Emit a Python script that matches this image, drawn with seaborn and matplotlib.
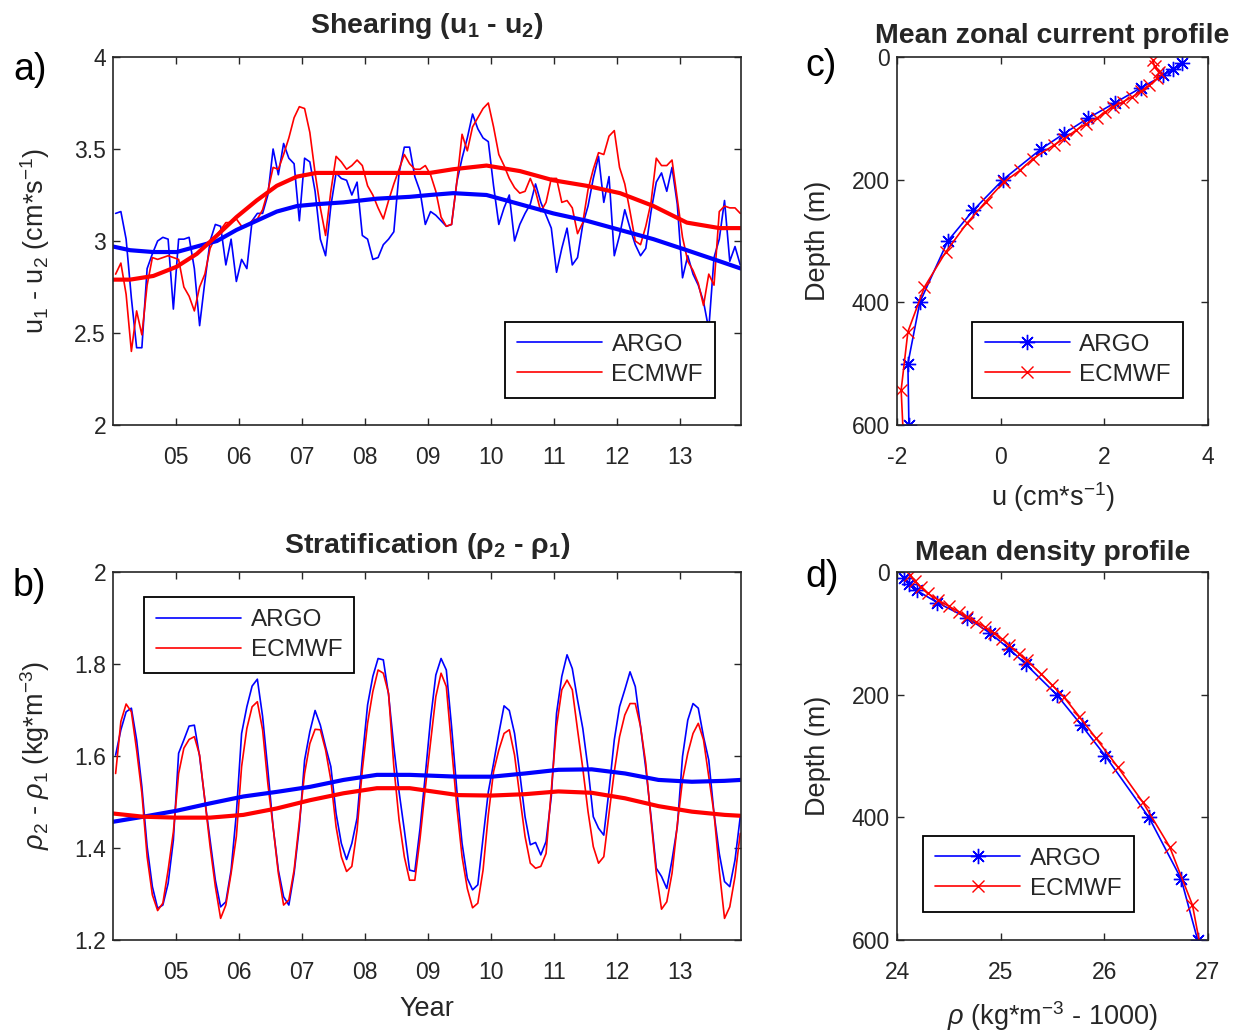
import numpy as np
import pandas as pd
import matplotlib
matplotlib.use("Agg")
import matplotlib.pyplot as plt
import seaborn as sns

# ---------------- data ----------------
months = np.arange(120)
years = 2004 + (months + 0.5) / 12.0

argo_shear = [3.15, 3.16, 3.01, 2.69, 2.42, 2.42, 2.85, 2.93, 3.00, 3.02,
              3.01, 2.63, 3.01, 3.01, 3.02, 2.85, 2.54, 2.78, 3.00, 3.09,
              3.08, 2.87, 3.01, 2.78, 2.90, 2.85, 3.11, 3.15, 3.15, 3.25,
              3.50, 3.36, 3.53, 3.45, 3.42, 3.11, 3.45, 3.43, 3.27, 3.01,
              2.92, 3.19, 3.37, 3.34, 3.33, 3.25, 3.32, 3.03, 3.01, 2.90,
              2.91, 2.98, 3.01, 3.05, 3.37, 3.51, 3.51, 3.35, 3.27, 3.09,
              3.16, 3.14, 3.11, 3.08, 3.09, 3.32, 3.45, 3.56, 3.69, 3.61,
              3.56, 3.54, 3.30, 3.09, 3.18, 3.25, 3.00, 3.09, 3.15, 3.20,
              3.31, 3.21, 3.14, 3.07, 2.83, 2.96, 3.07, 2.87, 2.91, 3.09,
              3.19, 3.34, 3.46, 3.21, 3.35, 2.92, 3.03, 3.17, 3.07, 2.98,
              2.92, 2.96, 3.16, 3.32, 3.37, 3.27, 3.40, 3.20, 2.80, 2.92,
              2.82, 2.76, 2.67, 2.52, 2.91, 3.01, 3.22, 2.89, 2.97, 2.87]

ecmwf_shear = [2.82, 2.88, 2.71, 2.40, 2.62, 2.49, 2.76, 2.91, 2.90, 2.91,
               2.92, 2.91, 2.90, 2.75, 2.70, 2.62, 2.75, 2.82, 2.96, 3.02,
               3.06, 3.10, 3.10, 3.12, 3.08, 3.08, 3.11, 3.12, 3.17, 3.27,
               3.40, 3.39, 3.47, 3.56, 3.67, 3.73, 3.72, 3.59, 3.37, 3.18,
               3.03, 3.27, 3.46, 3.43, 3.39, 3.41, 3.44, 3.41, 3.30, 3.25,
               3.18, 3.12, 3.22, 3.31, 3.39, 3.47, 3.42, 3.39, 3.39, 3.41,
               3.36, 3.27, 3.13, 3.08, 3.09, 3.32, 3.58, 3.49, 3.62, 3.67,
               3.72, 3.75, 3.62, 3.47, 3.41, 3.34, 3.29, 3.26, 3.27, 3.34,
               3.27, 3.16, 3.21, 3.34, 3.34, 3.21, 3.22, 3.18, 3.04, 3.10,
               3.28, 3.39, 3.48, 3.47, 3.57, 3.60, 3.40, 3.31, 3.16, 3.00,
               2.98, 3.08, 3.21, 3.45, 3.41, 3.41, 3.44, 3.23, 3.02, 2.89,
               2.84, 2.77, 2.65, 2.82, 2.76, 3.16, 3.19, 3.18, 3.18, 3.15]

shear_trend_years = [2004.0, 2004.27, 2004.64, 2005.01, 2005.33, 2005.65, 2005.96,
                     2006.28, 2006.60, 2006.92, 2007.23, 2007.66, 2008.19, 2008.71,
                     2009.03, 2009.40, 2009.93, 2010.46, 2010.99, 2011.52, 2012.05,
                     2012.58, 2013.11, 2013.63, 2013.97]
argo_shear_trend = [2.97, 2.95, 2.94, 2.94, 2.97, 3.00, 3.06, 3.11, 3.16, 3.19, 3.20,
                    3.21, 3.23, 3.24, 3.25, 3.26, 3.25, 3.20, 3.15, 3.11, 3.06, 3.01,
                    2.95, 2.89, 2.85]
ecmwf_shear_trend = [2.79, 2.79, 2.81, 2.86, 2.93, 3.03, 3.13, 3.22, 3.30, 3.35, 3.37,
                     3.37, 3.37, 3.37, 3.37, 3.39, 3.41, 3.38, 3.33, 3.30, 3.26, 3.19,
                     3.10, 3.07, 3.07]

argo_strat = [1.602, 1.657, 1.696, 1.704, 1.635, 1.533, 1.403, 1.316, 1.269, 1.276,
              1.323, 1.417, 1.606, 1.635, 1.665, 1.667, 1.599, 1.504, 1.417, 1.330,
              1.272, 1.283, 1.352, 1.475, 1.649, 1.707, 1.752, 1.767, 1.686, 1.570,
              1.446, 1.352, 1.294, 1.276, 1.345, 1.446, 1.591, 1.653, 1.699, 1.667,
              1.620, 1.577, 1.475, 1.410, 1.375, 1.410, 1.465, 1.595, 1.711, 1.773,
              1.812, 1.809, 1.733, 1.620, 1.522, 1.439, 1.352, 1.349, 1.443, 1.559,
              1.680, 1.776, 1.812, 1.787, 1.664, 1.526, 1.410, 1.334, 1.309, 1.320,
              1.422, 1.522, 1.584, 1.649, 1.709, 1.699, 1.649, 1.562, 1.468, 1.407,
              1.412, 1.385, 1.414, 1.512, 1.693, 1.773, 1.820, 1.790, 1.722, 1.660,
              1.573, 1.468, 1.443, 1.428, 1.526, 1.635, 1.707, 1.744, 1.783, 1.751,
              1.664, 1.573, 1.468, 1.356, 1.338, 1.312, 1.374, 1.446, 1.599, 1.678,
              1.714, 1.704, 1.642, 1.591, 1.475, 1.388, 1.327, 1.316, 1.374, 1.468]

ecmwf_strat = [1.562, 1.675, 1.713, 1.696, 1.613, 1.519, 1.381, 1.298, 1.264, 1.280,
               1.352, 1.435, 1.562, 1.617, 1.636, 1.642, 1.602, 1.504, 1.403, 1.316,
               1.247, 1.276, 1.345, 1.425, 1.577, 1.660, 1.707, 1.718, 1.657, 1.540,
               1.446, 1.345, 1.276, 1.287, 1.352, 1.457, 1.562, 1.627, 1.658, 1.657,
               1.613, 1.548, 1.446, 1.381, 1.349, 1.360, 1.439, 1.570, 1.671, 1.740,
               1.787, 1.780, 1.736, 1.577, 1.461, 1.381, 1.330, 1.330, 1.421, 1.530,
               1.630, 1.729, 1.780, 1.751, 1.620, 1.490, 1.381, 1.312, 1.270, 1.280,
               1.352, 1.472, 1.566, 1.613, 1.649, 1.657, 1.602, 1.512, 1.425, 1.367,
               1.356, 1.360, 1.388, 1.526, 1.664, 1.744, 1.765, 1.744, 1.657, 1.573,
               1.479, 1.403, 1.367, 1.381, 1.475, 1.566, 1.642, 1.689, 1.714, 1.714,
               1.664, 1.584, 1.461, 1.345, 1.267, 1.283, 1.345, 1.450, 1.548, 1.606,
               1.649, 1.671, 1.635, 1.555, 1.475, 1.352, 1.247, 1.272, 1.338, 1.432]

strat_trend_years = [2004.0, 2004.48, 2005.01, 2005.54, 2006.07, 2006.60, 2007.13,
                     2007.66, 2008.19, 2008.71, 2009.48, 2010.01, 2010.54, 2011.07,
                     2011.60, 2012.13, 2012.66, 2013.19, 2013.71, 2013.97]
argo_strat_trend = [1.457, 1.468, 1.481, 1.497, 1.512, 1.522, 1.533, 1.548, 1.559, 1.559,
                    1.555, 1.555, 1.562, 1.570, 1.571, 1.562, 1.548, 1.544, 1.546, 1.548]
ecmwf_strat_trend = [1.475, 1.468, 1.466, 1.466, 1.472, 1.486, 1.504, 1.519, 1.530, 1.530,
                     1.515, 1.514, 1.517, 1.523, 1.520, 1.508, 1.491, 1.479, 1.472, 1.470]

argo_depth = [10, 20, 30, 50, 75, 100, 125, 150, 200, 250, 300, 400, 500, 600]
argo_u = [3.50, 3.32, 3.14, 2.71, 2.20, 1.68, 1.22, 0.78, 0.045, -0.53, -1.02, -1.56, -1.79, -1.77]
argo_rho = [24.07, 24.12, 24.19, 24.39, 24.68, 24.90, 25.08, 25.24, 25.54, 25.78, 26.01,
            26.43, 26.74, 26.90]

ecmwf_depth = [5, 15, 25, 35, 46, 56, 65, 73, 81, 90, 100, 109, 119, 133, 144, 166, 185,
               204, 236, 271, 318, 375, 448, 543, 650]
ecmwf_u = [2.93, 2.97, 3.05, 3.02, 2.87, 2.71, 2.54, 2.36, 2.17, 2.01, 1.85, 1.65, 1.46,
           1.23, 1.02, 0.62, 0.37, 0.06, -0.29, -0.65, -1.06, -1.47, -1.79, -1.92, -1.86]
ecmwf_rho = [24.13, 24.17, 24.23, 24.30, 24.40, 24.50, 24.60, 24.68, 24.76, 24.85, 24.94,
             25.01, 25.08, 25.18, 25.25, 25.39, 25.50, 25.61, 25.76, 25.92, 26.13, 26.37,
             26.63, 26.85, 26.97]

year_ticks = [2005, 2006, 2007, 2008, 2009, 2010, 2011, 2012, 2013]
year_labels = ["05", "06", "07", "08", "09", "10", "11", "12", "13"]

# ---------------- style ----------------
sns.set_theme(style="white")
plt.rcParams.update({
    "font.family": ["Liberation Sans", "DejaVu Sans"],
    "mathtext.fontset": "custom",
    "mathtext.rm": "Liberation Sans",
    "mathtext.it": "Liberation Sans:italic",
    "mathtext.bf": "Liberation Sans:bold",
    "mathtext.default": "regular",
    "axes.unicode_minus": False,
    "axes.edgecolor": "#262626",
    "text.color": "#262626",
    "axes.labelcolor": "#262626",
})

BLUE = (0, 0, 1)
RED = (1, 0, 0)
FS_TICK = 16.5
FS_LAB = 19.5
FS_TITLE = 20.5
FS_LEG = 17.5

fig = plt.figure(figsize=(12.47, 10.34), dpi=100)
W, H = 1247.0, 1034.0


def add_ax(x0, y0, x1, y1):
    return fig.add_axes([x0 / W, 1 - y1 / H, (x1 - x0) / W, (y1 - y0) / H])


ax_a = add_ax(113, 57, 741, 425)
ax_b = add_ax(113, 572, 741, 940)
ax_c = add_ax(897, 57, 1208, 425)
ax_d = add_ax(897, 572, 1208, 940)


def style(ax, xpad=15):
    for s in ax.spines.values():
        s.set_visible(True)
        s.set_color("#262626")
        s.set_linewidth(1.2)
    ax.tick_params(direction="in", top=True, right=True, bottom=True, left=True,
                   length=5, width=1.0, labelsize=FS_TICK, colors="#262626")
    ax.tick_params(axis="x", pad=xpad)
    ax.tick_params(axis="y", pad=5)
    ax.grid(False)
    ax.set_facecolor("white")


def legend(ax, handles, loc, anchor):
    leg = ax.legend(handles=handles, labels=["ARGO", "ECMWF"], loc=loc,
                    bbox_to_anchor=anchor, frameon=True, fancybox=False,
                    edgecolor="black", framealpha=1, fontsize=FS_LEG,
                    handlelength=3.5, handletextpad=0.4, borderaxespad=0,
                    borderpad=0.5, labelspacing=0.33)
    leg.get_frame().set_linewidth(1.3)
    return leg


# ---------------- panel a ----------------
df_a = pd.DataFrame({"year": years, "argo": argo_shear, "ecmwf": ecmwf_shear})
sns.lineplot(data=df_a, x="year", y="argo", ax=ax_a, color=BLUE, linewidth=1.2,
             estimator=None, sort=False)
sns.lineplot(data=df_a, x="year", y="ecmwf", ax=ax_a, color=RED, linewidth=1.2,
             estimator=None, sort=False)
sns.lineplot(x=shear_trend_years, y=argo_shear_trend, ax=ax_a, color=BLUE, linewidth=3.0,
             estimator=None, sort=False)
sns.lineplot(x=shear_trend_years, y=ecmwf_shear_trend, ax=ax_a, color=RED, linewidth=3.0,
             estimator=None, sort=False)
ax_a.set_xlim(2004.0, 2013.97)
ax_a.set_ylim(2, 4)
ax_a.set_xticks(year_ticks)
ax_a.set_xticklabels(year_labels)
ax_a.set_yticks([2, 2.5, 3, 3.5, 4])
ax_a.set_yticklabels(["2", "2.5", "3", "3.5", "4"])
ax_a.set_xlabel("")
ax_a.set_ylabel(r"u$_1$ - u$_2$ (cm*s$^{-1}$)", fontsize=FS_LAB, labelpad=16)
ax_a.set_title(r"Shearing (u$_\mathbf{1}$ - u$_\mathbf{2}$)", fontsize=FS_TITLE,
               fontweight="bold", pad=17)
style(ax_a)
lines = ax_a.get_lines()
legend(ax_a, [lines[0], lines[1]], "lower right", (0.959, 0.073))

# ---------------- panel b ----------------
df_b = pd.DataFrame({"year": years, "argo": argo_strat, "ecmwf": ecmwf_strat})
sns.lineplot(data=df_b, x="year", y="argo", ax=ax_b, color=BLUE, linewidth=1.2,
             estimator=None, sort=False)
sns.lineplot(data=df_b, x="year", y="ecmwf", ax=ax_b, color=RED, linewidth=1.2,
             estimator=None, sort=False)
sns.lineplot(x=strat_trend_years, y=argo_strat_trend, ax=ax_b, color=BLUE, linewidth=3.0,
             estimator=None, sort=False)
sns.lineplot(x=strat_trend_years, y=ecmwf_strat_trend, ax=ax_b, color=RED, linewidth=3.0,
             estimator=None, sort=False)
ax_b.set_xlim(2004.0, 2013.97)
ax_b.set_ylim(1.2, 2.0)
ax_b.set_xticks(year_ticks)
ax_b.set_xticklabels(year_labels)
ax_b.set_yticks([1.2, 1.4, 1.6, 1.8, 2.0])
ax_b.set_yticklabels(["1.2", "1.4", "1.6", "1.8", "2"])
ax_b.set_xlabel("Year", fontsize=FS_LAB, labelpad=9)
ax_b.set_ylabel(r"$\mathit{\rho}_2$ - $\mathit{\rho}_1$ (kg*m$^{-3}$)", fontsize=FS_LAB,
                labelpad=16)
ax_b.set_title(r"Stratification ($\mathbf{\rho_2}$ - $\mathbf{\rho_1}$)", fontsize=FS_TITLE,
               fontweight="bold", pad=14)
style(ax_b)
lines = ax_b.get_lines()
legend(ax_b, [lines[0], lines[1]], "upper left", (0.049, 0.932))

# ---------------- panel c ----------------
ASTER = (8, 2, 0)
df_ca = pd.DataFrame({"u": argo_u, "depth": argo_depth})
df_ce = pd.DataFrame({"u": ecmwf_u, "depth": ecmwf_depth})
sns.lineplot(data=df_ca, x="u", y="depth", ax=ax_c, color=BLUE, linewidth=1.2,
             estimator=None, sort=False, marker=ASTER, markersize=11,
             markeredgewidth=1.0, markeredgecolor=BLUE)
sns.lineplot(data=df_ce, x="u", y="depth", ax=ax_c, color=RED, linewidth=1.2,
             estimator=None, sort=False, marker="x", markersize=8,
             markeredgewidth=1.0, markeredgecolor=RED)
ax_c.set_xlim(-2, 4)
ax_c.set_ylim(600, 0)
ax_c.set_xticks([-2, 0, 2, 4])
ax_c.set_yticks([0, 200, 400, 600])
ax_c.set_xlabel(r"u (cm*s$^{-1}$)", fontsize=FS_LAB, labelpad=8)
ax_c.set_ylabel("Depth (m)", fontsize=FS_LAB, labelpad=15)
ax_c.set_title("Mean zonal current profile", fontsize=FS_TITLE, fontweight="bold", pad=10)
style(ax_c)
lines = ax_c.get_lines()
legend(ax_c, [lines[0], lines[1]], "lower right", (0.92, 0.073))

# ---------------- panel d ----------------
df_da = pd.DataFrame({"rho": argo_rho, "depth": argo_depth})
df_de = pd.DataFrame({"rho": ecmwf_rho, "depth": ecmwf_depth})
sns.lineplot(data=df_da, x="rho", y="depth", ax=ax_d, color=BLUE, linewidth=1.2,
             estimator=None, sort=False, marker=ASTER, markersize=11,
             markeredgewidth=1.0, markeredgecolor=BLUE)
sns.lineplot(data=df_de, x="rho", y="depth", ax=ax_d, color=RED, linewidth=1.2,
             estimator=None, sort=False, marker="x", markersize=8,
             markeredgewidth=1.0, markeredgecolor=RED)
ax_d.set_xlim(24, 27)
ax_d.set_ylim(600, 0)
ax_d.set_xticks([24, 25, 26, 27])
ax_d.set_yticks([0, 200, 400, 600])
ax_d.set_xlabel(r"$\mathit{\rho}$ (kg*m$^{-3}$ - 1000)", fontsize=FS_LAB, labelpad=11)
ax_d.set_ylabel("Depth (m)", fontsize=FS_LAB, labelpad=15)
ax_d.set_title("Mean density profile", fontsize=FS_TITLE, fontweight="bold", pad=9)
style(ax_d)
lines = ax_d.get_lines()
legend(ax_d, [lines[0], lines[1]], "lower left", (0.084, 0.076))

# ---------------- panel letters ----------------
for txt, x, y in [("a)", 13, 70), ("b)", 13, 586), ("c)", 805, 66), ("d)", 805, 577)]:
    fig.text(x / W, 1 - y / H, txt, fontsize=27, va="center", ha="left", color="black")

fig.savefig("out.png", dpi=100, facecolor="white")
